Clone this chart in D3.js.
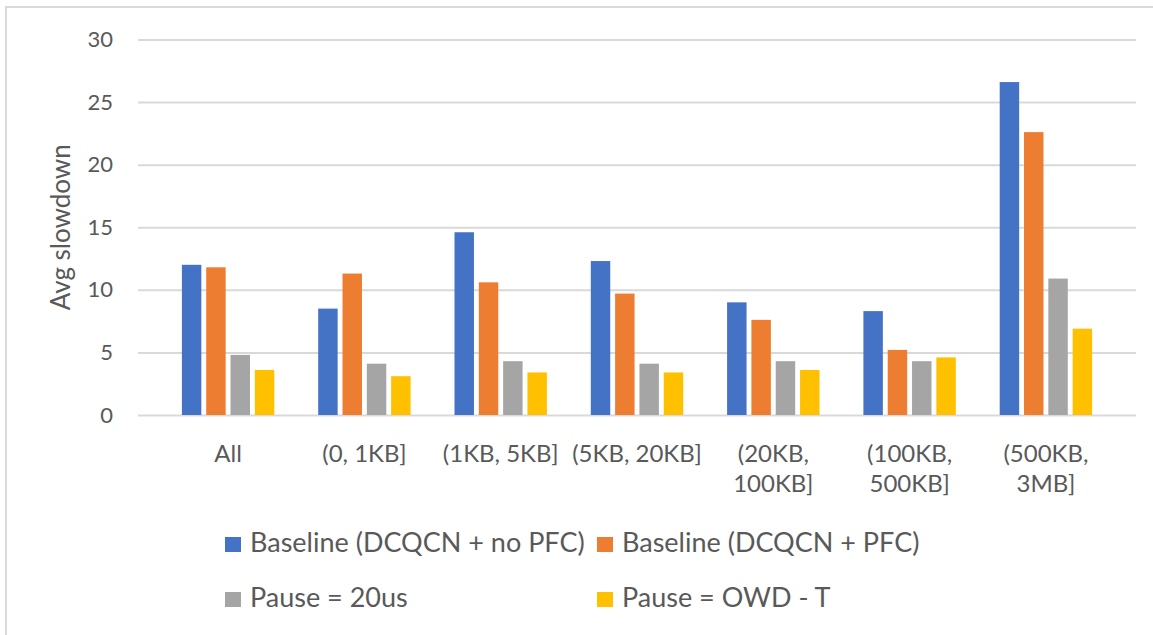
<!DOCTYPE html>
<html>
<head>
<meta charset="utf-8">
<script src="https://cdn.jsdelivr.net/npm/d3@7"></script>
<style>
  body { margin: 0; background: #fff; }
  text { font-family: Lato, "Open Sans", sans-serif; fill: #595959; }
</style>
</head>
<body>
<div class="chart"></div>
<script>
// chart data
var categories = ["All", "(0, 1KB]", "(1KB, 5KB]", "(5KB, 20KB]", "(20KB, 100KB]", "(100KB, 500KB]", "(500KB, 3MB]"];
var categoryLines = [["All"], ["(0, 1KB]"], ["(1KB, 5KB]"], ["(5KB, 20KB]"], ["(20KB,", "100KB]"], ["(100KB,", "500KB]"], ["(500KB,", "3MB]"]];
var seriesNames = ["Baseline (DCQCN + no PFC)", "Baseline (DCQCN + PFC)", "Pause = 20us", "Pause = OWD - T"];
var baselineNoPfc = [12.0, 8.5, 14.6, 12.3, 9.0, 8.3, 26.6];
var baselinePfc = [11.8, 11.3, 10.6, 9.7, 7.6, 5.2, 22.6];
var pause20us = [4.8, 4.1, 4.3, 4.1, 4.3, 4.3, 10.9];
var pauseOwd = [3.6, 3.1, 3.4, 3.4, 3.6, 4.6, 6.9];
var yTicks = [0, 5, 10, 15, 20, 25, 30];
var colors = ["#4472c4", "#ed7d31", "#a5a5a5", "#ffc000"];

var allSeries = [baselineNoPfc, baselinePfc, pause20us, pauseOwd];

var svgWidth = 1153;
var svgHeight = 635;

var margin = { top: 39.5, bottom: 220, left: 138, right: 17 };
var width = svgWidth - margin.left - margin.right;
var height = svgHeight - margin.top - margin.bottom;

var svg = d3.select(".chart")
  .append("svg")
  .attr("width", svgWidth)
  .attr("height", svgHeight);

// chart area border
svg.append("rect")
  .attr("x", 6)
  .attr("y", 7)
  .attr("width", 1200)
  .attr("height", 700)
  .attr("fill", "none")
  .attr("stroke", "#d9d9d9")
  .attr("stroke-width", 2);

var chartGroup = svg.append("g")
  .attr("transform", `translate(${margin.left}, ${margin.top})`);

// scales
var x0 = d3.scaleBand()
  .domain(categories)
  .range([0, width])
  .padding(0.322);

var x1 = d3.scaleBand()
  .domain(d3.range(seriesNames.length))
  .range([0, x0.bandwidth()])
  .paddingInner(0.2);

var yScale = d3.scaleLinear()
  .domain([0, 30])
  .range([height, 0]);

// gridlines + y labels
var yAxis = d3.axisLeft(yScale)
  .tickValues(yTicks)
  .tickSize(-width)
  .tickPadding(25);

var yAxisGroup = chartGroup.append("g").call(yAxis);
yAxisGroup.select(".domain").remove();
yAxisGroup.selectAll(".tick line")
  .attr("stroke", "#d9d9d9")
  .attr("stroke-width", 2);
yAxisGroup.selectAll(".tick text")
  .attr("font-size", "22px")
  .attr("fill", "#595959")
  .style("font-family", "Lato, sans-serif");

// bars
var groups = chartGroup.selectAll(".cat")
  .data(categories)
  .enter()
  .append("g")
  .attr("class", "cat")
  .attr("transform", d => `translate(${x0(d)}, 0)`);

groups.selectAll("rect")
  .data((d, i) => allSeries.map((s, j) => ({ series: j, value: s[i] })))
  .enter()
  .append("rect")
  .attr("x", d => x1(d.series))
  .attr("y", d => yScale(d.value))
  .attr("width", x1.bandwidth())
  .attr("height", d => height - yScale(d.value))
  .attr("fill", d => colors[d.series]);

// category labels
var catLabels = chartGroup.selectAll(".catlabel")
  .data(categories)
  .enter()
  .append("text")
  .attr("class", "catlabel")
  .attr("text-anchor", "middle")
  .attr("font-size", "24px")
  .attr("transform", d => `translate(${x0(d) + x0.bandwidth() / 2}, ${height + 47})`);

catLabels.selectAll("tspan")
  .data((d, i) => categoryLines[i])
  .enter()
  .append("tspan")
  .attr("x", 0)
  .attr("dy", (d, i) => i === 0 ? 0 : 30)
  .text(d => d);

// y axis title
svg.append("text")
  .attr("transform", `translate(70, ${margin.top + height / 2}) rotate(-90)`)
  .attr("text-anchor", "middle")
  .attr("font-size", "26px")
  .text("Avg slowdown");

// legend
var legendX = [225, 597];
var legendY = [552, 607];
var legend = svg.selectAll(".legend")
  .data(seriesNames)
  .enter()
  .append("g")
  .attr("class", "legend")
  .attr("transform", (d, i) => `translate(${legendX[i % 2]}, ${legendY[Math.floor(i / 2)]})`);

legend.append("rect")
  .attr("x", 0)
  .attr("y", -15)
  .attr("width", 16)
  .attr("height", 15)
  .attr("fill", (d, i) => colors[i]);

legend.append("text")
  .attr("x", 25)
  .attr("y", 0)
  .attr("font-size", "27px")
  .text(d => d);
</script>
</body>
</html>
